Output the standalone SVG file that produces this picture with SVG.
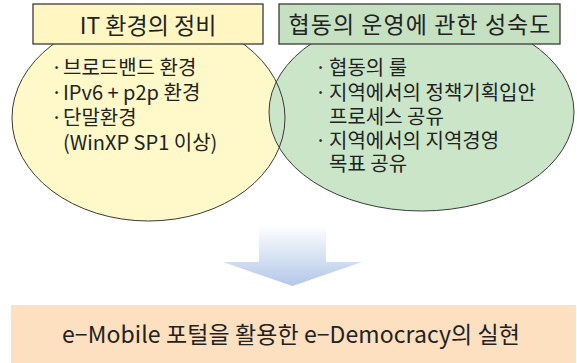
<svg xmlns="http://www.w3.org/2000/svg" width="577" height="363" viewBox="0 0 577 363">
<defs>
<linearGradient id="arrowGrad" x1="0" y1="225" x2="0" y2="286" gradientUnits="userSpaceOnUse">
<stop offset="0" stop-color="#ffffff"/>
<stop offset="1" stop-color="#b3c7e8"/>
</linearGradient>
<style>
text{font-family:"Noto Sans CJK KR","Noto Sans",sans-serif;fill:#222;}
.title{font-size:23px;text-anchor:middle;}
.body{font-size:20px;}
.outline{fill:none;stroke:#3a3a3a;stroke-width:1;}
.box{stroke:#3a3a3a;stroke-width:1.3;}
</style>
</defs>
<rect width="577" height="363" fill="#ffffff"/>
<g id="it-environment">
<ellipse cx="148.5" cy="118" rx="136.5" ry="103" fill="#fff8c8"/>
</g>
<g id="cooperation-maturity">
<ellipse cx="421.5" cy="112" rx="152.5" ry="99" fill="#cbe5c8"/>
</g>
<g id="outlines">
<ellipse class="outline" cx="148.5" cy="118" rx="136.5" ry="103"/>
<ellipse class="outline" cx="421.5" cy="112" rx="152.5" ry="99"/>
</g>
<g id="it-title">
<rect class="box" x="33" y="4" width="230" height="40" fill="#fff6c2"/>
<text class="title" x="148" y="33.5">IT 환경의 정비</text>
</g>
<g id="coop-title">
<rect class="box" x="279" y="4" width="281" height="40" fill="#c6e1c1"/>
<text class="title" x="419.5" y="33" textLength="262">협동의 운영에 관한 성숙도</text>
</g>
<g id="it-items">
<text class="body"><tspan x="51" y="75">·</tspan><tspan x="63" y="75">브로드밴드 환경</tspan></text>
<text class="body"><tspan x="51" y="100">·</tspan><tspan x="63" y="100">IPv6 + p2p 환경</tspan></text>
<text class="body"><tspan x="51" y="125">·</tspan><tspan x="63" y="125">단말환경</tspan></text>
<text class="body" x="63" y="150">(WinXP SP1 이상)</text>
</g>
<g id="coop-items">
<text class="body"><tspan x="315" y="75">·</tspan><tspan x="329" y="75">협동의 룰</tspan></text>
<text class="body"><tspan x="315" y="99.5">·</tspan><tspan x="329" y="99.5">지역에서의 정책기획입안</tspan></text>
<text class="body" x="329" y="123.5">프로세스 공유</text>
<text class="body"><tspan x="315" y="147.5">·</tspan><tspan x="329" y="147.5">지역에서의 지역경영</tspan></text>
<text class="body" x="329" y="171">목표 공유</text>
</g>
<g id="connectors">
<polygon points="259,225 326,225 326,262 362,262 292.5,286 223,262 259,262" fill="url(#arrowGrad)"/>
</g>
<g id="result">
<rect x="11" y="305" width="565" height="58" fill="#fde0c0"/>
<text x="291" y="343" style="font-size:23px;text-anchor:middle;" textLength="458">e−Mobile 포털을 활용한 e−Democracy의 실현</text>
</g>
</svg>
